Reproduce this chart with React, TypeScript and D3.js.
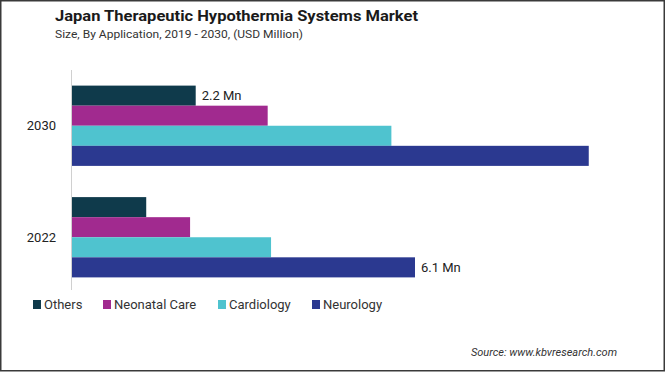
import React from "react";
import * as d3 from "d3";

const years = ["2030", "2022"];
const series = ["Others", "Neonatal Care", "Cardiology", "Neurology"];
const colors = ["#0f3a4b", "#a12a8f", "#4fc3cf", "#2b3990"];
const values2030 = [2.2, 3.48, 5.68, 9.19];
const values2022 = [1.32, 2.1, 3.54, 6.1];
const labels2030 = ["2.2 Mn", "", "", ""];
const labels2022 = ["", "", "", "6.1 Mn"];

const W = 665;
const H = 372;
const FONT = "Roboto, 'Noto Sans', sans-serif";

export default function App() {
  const data = [values2030, values2022];
  const labels = [labels2030, labels2022];
  const x = d3.scaleLinear().domain([0, 6.1]).range([72, 415]);
  const y = d3.scaleBand<string>().domain(years).range([70, 293]).paddingInner(0.28).paddingOuter(0.14);
  const ySub = d3.scaleBand<string>().domain(series).range([0, y.bandwidth()]);

  const legendX = [33, 103, 218, 312];

  return (
    <div style={{ position: "fixed", left: 0, top: 0 }}>
      <svg width={W} height={H} style={{ display: "block", background: "#fff" }}>
        <rect x={0.75} y={0.75} width={W - 1.5} height={H - 2} fill="#fff" stroke="#3a3a3a" strokeWidth={1.5} />
        <text x={55} y={20.5} fontFamily={FONT} fontWeight={700} fontSize={15.5} fill="#1a1a1a" textLength={363} lengthAdjust="spacingAndGlyphs">
          Japan Therapeutic Hypothermia Systems Market
        </text>
        <text x={55} y={37.5} fontFamily={FONT} fontSize={11} fill="#333" textLength={248} lengthAdjust="spacingAndGlyphs">
          Size, By Application, 2019 - 2030, (USD Million)
        </text>
        <line x1={71.5} x2={71.5} y1={70} y2={290} stroke="#d0d0d0" strokeWidth={1} />
        {years.map((yr, gi) => (
          <g key={yr} transform={`translate(0,${y(yr)})`}>
            <text x={56} y={y.bandwidth() / 2 + 4.5} textAnchor="end" fontFamily={FONT} fontSize={13} fill="#222">
              {yr}
            </text>
            {series.map((s, si) => (
              <g key={s}>
                <rect x={x(0)} y={ySub(s)} width={x(data[gi][si]) - x(0)} height={ySub.bandwidth()} fill={colors[si]} />
                {labels[gi][si] && (
                  <text x={x(data[gi][si]) + 6} y={(ySub(s) as number) + ySub.bandwidth() / 2 + 4.5} fontFamily={FONT} fontSize={13} fill="#222">
                    {labels[gi][si]}
                  </text>
                )}
              </g>
            ))}
          </g>
        ))}
        {series.map((s, i) => (
          <g key={s}>
            <rect x={legendX[i]} y={300} width={8} height={9} fill={colors[i]} />
            <text x={legendX[i] + 11} y={308.5} fontFamily={FONT} fontSize={13} fill="#333">
              {s}
            </text>
          </g>
        ))}
        <text x={617} y={355.5} textAnchor="end" fontFamily={FONT} fontStyle="italic" fontSize={11} fill="#333">
          Source: www.kbvresearch.com
        </text>
      </svg>
    </div>
  );
}
